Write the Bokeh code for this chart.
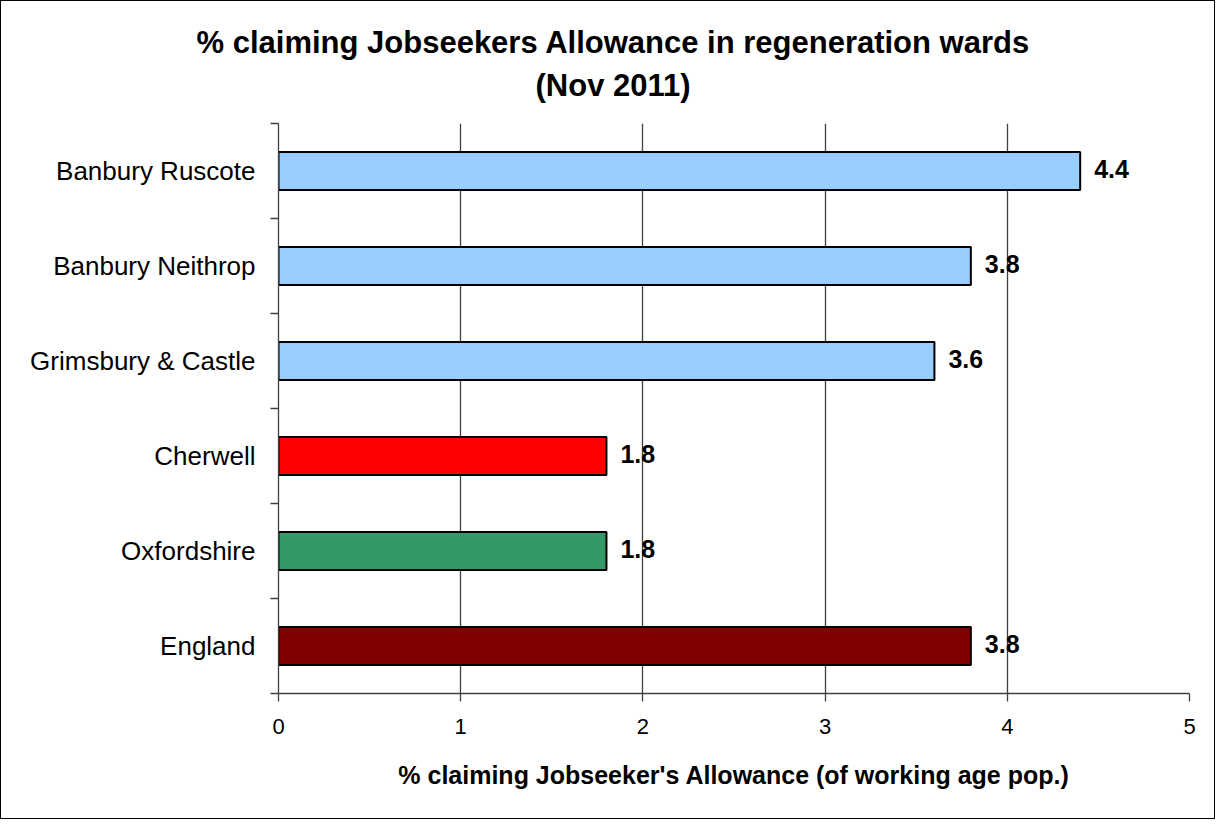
from bokeh.plotting import figure
from bokeh.models import (ColumnDataSource, Range1d, FixedTicker, LabelSet, Title)
from bokeh.core.properties import value
from bokeh.embed import file_html
from bokeh.resources import INLINE

# ---- data ----
categories = ["Banbury Ruscote", "Banbury Neithrop", "Grimsbury & Castle",
              "Cherwell", "Oxfordshire", "England"]
values = [4.4, 3.8, 3.6, 1.8, 1.8, 3.8]
colors = ["#99CCFF", "#99CCFF", "#99CCFF", "#FF0000", "#339966", "#800000"]
x_ticks = [0, 1, 2, 3, 4, 5]
title_line1 = "% claiming Jobseekers Allowance in regeneration wards"
title_line2 = "(Nov 2011)"
x_label = "% claiming Jobseeker's Allowance (of working age pop.)"

FONT = "Liberation Sans"
AX = "#404040"
n = len(categories)
pos = [n - 1 - i for i in range(n)]  # top-to-bottom order
labels_txt = [f"{v:.1f}" for v in values]

src = ColumnDataSource(dict(cat=categories, val=values, pos=pos,
                            color=colors, txt=labels_txt))

p = figure(width=1215, height=819, output_backend="svg", toolbar_location=None,
           title=None,
           x_range=Range1d(0, 5), y_range=Range1d(-0.5, n - 0.5),
           min_border_left=277, min_border_right=27,
           min_border_top=122, min_border_bottom=127)
p.styles = {"border": "1px solid black"}
p.outline_line_color = None
p.background_fill_color = "white"
p.border_fill_color = "white"

p.hbar(y="pos", right="val", left=0, height=0.4, fill_color="color",
       line_color="black", line_width=2, source=src)

p.add_layout(LabelSet(x="val", y="pos", text="txt", source=src,
                      x_offset=14, y_offset=2, text_baseline="middle",
                      text_align="left", text_font=value(FONT),
                      text_font_size="25px",
                      text_font_style="bold", text_color="black"))

# x axis
p.xaxis.ticker = FixedTicker(ticks=x_ticks)
p.xaxis.axis_label = x_label
p.xaxis.axis_label_text_font = FONT
p.xaxis.axis_label_text_font_size = "25px"
p.xaxis.axis_label_text_font_style = "bold"
p.xaxis.axis_label_text_color = "black"
p.xaxis.axis_label_standoff = 24
p.xaxis.major_label_text_font = FONT
p.xaxis.major_label_text_font_size = "22px"
p.xaxis.major_label_text_color = "black"
p.xaxis.major_label_standoff = 17
p.xaxis.major_tick_out = 8
p.xaxis.major_tick_in = 0
p.xaxis.minor_tick_line_color = None
p.xaxis.axis_line_color = AX
p.xaxis.axis_line_width = 1.3
p.xaxis.major_tick_line_color = AX
p.xaxis.major_tick_line_width = 1.3

# y axis: labels at centres, ticks at category boundaries
p.yaxis.ticker = FixedTicker(ticks=pos, minor_ticks=[k - 0.5 for k in range(n + 1)])
p.yaxis.major_label_overrides = {pp: c for pp, c in zip(pos, categories)}
p.yaxis.major_label_text_font = FONT
p.yaxis.major_label_text_font_size = "26px"
p.yaxis.major_label_text_color = "black"
p.yaxis.major_label_standoff = 15
p.yaxis.major_tick_out = 0
p.yaxis.major_tick_in = 0
p.yaxis.major_tick_line_color = None
p.yaxis.minor_tick_out = 8
p.yaxis.minor_tick_in = 0
p.yaxis.minor_tick_line_color = AX
p.yaxis.minor_tick_line_width = 1.3
p.yaxis.axis_line_color = AX
p.yaxis.axis_line_width = 1.3

p.xgrid.grid_line_color = AX
p.xgrid.grid_line_width = 1.3
p.ygrid.grid_line_color = None

# title, two lines, centred over the whole chart (left-aligned with offsets)
t2 = Title(text=title_line2, align="left", offset=257, standoff=42,
           text_font=FONT, text_font_size="31px", text_font_style="bold",
           text_color="black")
t1 = Title(text=title_line1, align="left", offset=-82, standoff=-31,
           text_font=FONT, text_font_size="31px", text_font_style="bold",
           text_color="black")
p.add_layout(t2, "above")
p.add_layout(t1, "above")

open("out.html", "w").write(file_html(p, INLINE))
